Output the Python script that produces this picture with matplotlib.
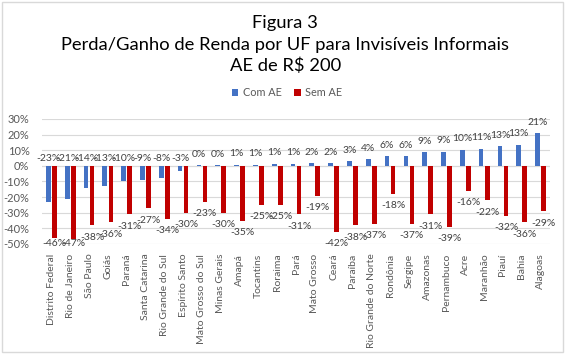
import matplotlib
matplotlib.use("Agg")
import matplotlib.pyplot as plt
import numpy as np
from matplotlib.patches import Rectangle

states = ["Distrito Federal", "Rio de Janeiro", "São Paulo", "Goiás", "Paraná",
          "Santa Catarina", "Rio Grande do Sul", "Espírito Santo", "Mato Grosso do Sul",
          "Minas Gerais", "Amapá", "Tocantins", "Roraima", "Pará", "Mato Grosso",
          "Ceará", "Paraíba", "Rio Grande do Norte", "Rondônia", "Sergipe", "Amazonas",
          "Pernambuco", "Acre", "Maranhão", "Piauí", "Bahia", "Alagoas"]
com_ae = [-23.4, -21.2, -14.4, -13.2, -10.0, -9.0, -8.0, -3.0, 0.4, 0.4, 0.6, 0.8, 1.2,
          1.2, 1.8, 1.8, 2.8, 4.2, 6.0, 6.0, 8.7, 9.1, 10.2, 10.8, 12.6, 13.4, 20.8]
sem_ae = [-46, -47, -38, -36, -31, -27, -34, -30, -23, -30, -35, -25, -25, -31, -19,
          -42, -38, -37, -18, -37, -31, -39, -16, -22, -32, -36, -29]
yticks = [30, 20, 10, 0, -10, -20, -30, -40, -50]

FONT = ["Lato", "DejaVu Sans"]
plt.rcParams['font.family'] = FONT

BLUE = "#4472C4"
RED = "#C00000"
GRAY = "#595959"

fig = plt.figure(figsize=(5.67, 3.6), dpi=100)
fig.patches.append(Rectangle((2/567, 8/360), 561/567, 350/360, transform=fig.transFigure,
                             fill=False, edgecolor="#D9D9D9", linewidth=1))

ax = fig.add_axes([42/567, (360-244)/360, 508/567, 125/360])
x = np.arange(len(states))
w = 0.25
ax.bar(x - 0.16, com_ae, w, color=BLUE, label="Com AE", zorder=3)
ax.bar(x + 0.16, sem_ae, w, color=RED, label="Sem AE", zorder=3)

ax.set_xlim(-0.5, len(states) - 0.5)
ax.set_ylim(-50, 30)
ax.set_yticks(yticks)
ax.set_yticklabels([f"{t}%" for t in yticks], color=GRAY, fontsize=8)
ax.yaxis.grid(True, color="#D9D9D9", linewidth=0.8, zorder=0)
ax.axhline(0, color="#D9D9D9", linewidth=0.8, zorder=2)
for s in ax.spines.values():
    s.set_visible(False)
ax.tick_params(axis='both', length=0)
ax.tick_params(axis='y', pad=9)
ax.set_xticks(x)
ax.set_xticklabels(states, rotation=90, color=GRAY, fontsize=7.5)
ax.tick_params(axis='x', pad=7)

lab_col = "#404040"
LFS = 7.5
for xi, v in zip(x, com_ae):
    if v >= 0:
        ax.annotate(f"{v:.0f}%", (xi - 0.16, v), xytext=(0, 11), textcoords="offset pixels",
                    ha="center", va="center", fontsize=LFS, color=lab_col, zorder=4)
    else:
        ax.annotate(f"{v:.0f}%", (xi - 0.16, 0), xytext=(0, 7), textcoords="offset pixels",
                    ha="center", va="center", fontsize=LFS, color=lab_col, zorder=4)
for xi, v in zip(x, sem_ae):
    yv = max(v - 12 / 1.565, -50)
    ax.text(xi + 0.16, yv, f"{v:.0f}%", ha="center", va="center", fontsize=LFS,
            color=lab_col, zorder=4)

TFS = 13.2
fig.text(0.503, (360-23)/360, "Figura 3", ha="center", va="center", fontsize=TFS, color="black")
fig.text(0.503, (360-45)/360, "Perda/Ganho de Renda por UF para Invisíveis Informais",
         ha="center", va="center", fontsize=TFS, color="black")
fig.text(0.503, (360-66)/360, "AE de R$ 200", ha="center", va="center", fontsize=TFS, color="black")

fig.legend(loc="center", bbox_to_anchor=(287/567, (360-93)/360), ncol=2, frameon=False,
           fontsize=7.8, labelcolor=GRAY, handlelength=0.6, handleheight=0.6,
           handletextpad=0.4, columnspacing=1.2)

fig.savefig("out.png", dpi=100)
